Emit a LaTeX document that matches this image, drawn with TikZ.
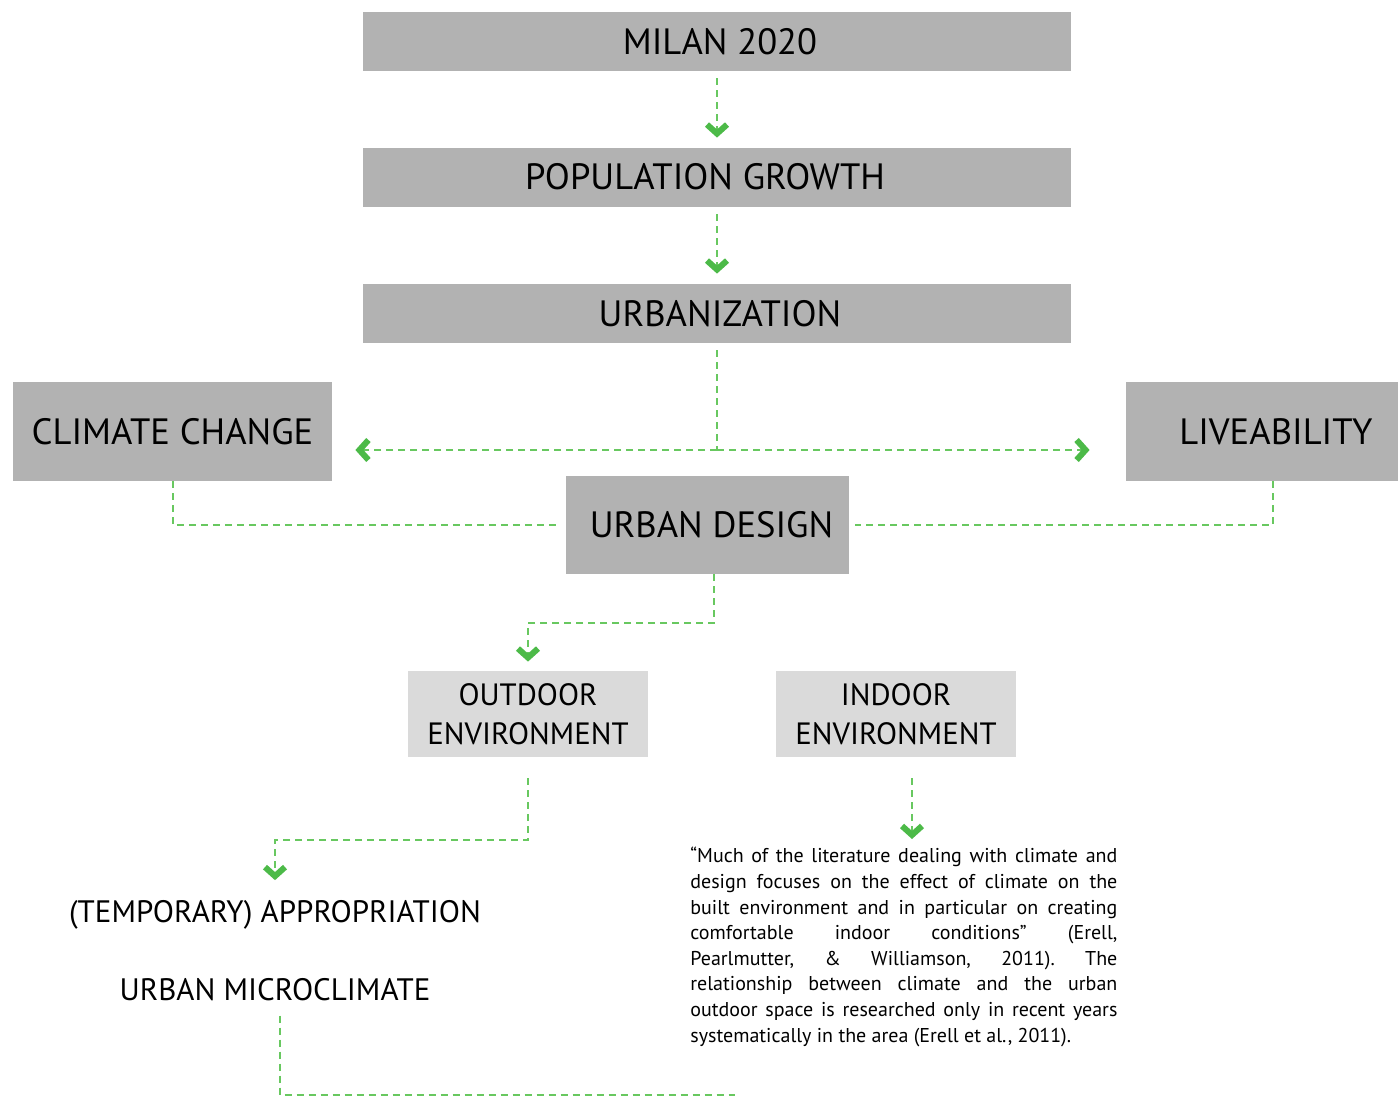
\documentclass[tikz,border=0pt]{standalone}
\usepackage{fontspec}
\setmainfont{PT Sans}
\usetikzlibrary{arrows.meta}

\definecolor{boxgrey}{RGB}{178,178,178}
\definecolor{envgrey}{RGB}{218,218,218}
\definecolor{linkgreen}{RGB}{104,200,96}
\definecolor{tipgreen}{RGB}{76,186,72}

\tikzset{
  bigbox/.style={fill=boxgrey, inner sep=0pt, font=\fontsize{18.3}{22}\selectfont},
  envbox/.style={fill=envgrey, inner sep=0pt, align=center, minimum width=120pt, minimum height=43pt, font=\fontsize{15.4}{19.5}\selectfont},
  plaintext/.style={inner sep=2pt, font=\fontsize{15.5}{18}\selectfont},
  link/.style={draw=linkgreen, line width=1pt, dash pattern=on 3.5pt off 2.5pt},
  arrowlink/.style={link, -{Straight Barb[length=4.5pt,width=10pt,line width=3pt,color=tipgreen]}}
}

\begin{document}
\begin{tikzpicture}[x=0.5pt,y=-0.5pt]
                \useasboundingbox (0,0) rectangle (1398,1097);

                \node[bigbox, minimum width=354pt, minimum height=29.5pt] (milan) at (717,41.5) {\hspace*{3pt}\raisebox{-1.5pt}{MILAN 2020}};
                \node[bigbox, minimum width=354pt, minimum height=29.5pt] (population) at (717,177.5) {\raisebox{1pt}{POPULATION GROWTH}\hspace*{12pt}};
                \node[bigbox, minimum width=354pt, minimum height=29.5pt] (urbanization) at (717,313.5) {\hspace*{3pt}URBANIZATION};

                \node[bigbox, minimum width=159.5pt, minimum height=49.5pt] (climate) at (172.5,431.5) {CLIMATE CHANGE};
                \node[bigbox, minimum width=136pt, minimum height=49.5pt] (liveability) at (1262,431.5) {\hspace*{14pt}LIVEABILITY};
                \node[bigbox, minimum width=141.5pt, minimum height=49pt] (design) at (707.5,525) {\hspace*{4pt}URBAN DESIGN};

                \node[envbox] (outdoor) at (528,714) {OUTDOOR\\ENVIRONMENT};
                \node[envbox] (indoor) at (896,714) {INDOOR\\ENVIRONMENT};

                \node[plaintext] (appropriation) at (275,915) {(TEMPORARY) APPROPRIATION};
                \node[plaintext] (microclimate) at (275,990) {URBAN MICROCLIMATE};

                \node[anchor=north west, inner sep=0pt, text width=213.5pt, align=justify,
                      font=\fontsize{10}{12.8}\selectfont\frenchspacing] (quote) at (690,847)
                  {“Much of the literature dealing with climate and\linebreak
                   design focuses on the effect of climate on the\linebreak
                   built environment and in particular on creating\linebreak
                   comfortable indoor conditions” (Erell,\linebreak
                   Pearlmutter, \& Williamson, 2011). The\linebreak
                   relationship between climate and the urban\linebreak
                   outdoor space is researched only in recent years\linebreak
                   systematically in the area (Erell et al., 2011).\par};

                \coordinate (split) at (717,450);
                \coordinate (bottomend) at (735,1095);

                \draw[arrowlink, shorten <=3.5pt, shorten >=5pt] (milan) -- (population);
                \draw[arrowlink, shorten <=3.5pt, shorten >=5pt] (population) -- (urbanization);

                \draw[link, shorten <=3.5pt] (urbanization) -- (split);
                \draw[arrowlink, shorten >=11.5pt] (split) -- (climate.east |- split);
                \draw[arrowlink, shorten >=18pt] (split) -- (liveability.west |- split);

                \draw[link, shorten >=3pt] (climate.south) |- (design.west);
                \draw[link, shorten >=3pt] ([xshift=5.5pt]liveability.south) |- (design.east);

                \draw[arrowlink, shorten >=4.5pt] ([xshift=3.25pt]design.south) -- ++(0,49) -| (outdoor.north);
                \draw[arrowlink, shorten <=10.5pt, shorten >=8pt] (outdoor.south) -- ++(0,83) -| (appropriation.north);
                \draw[arrowlink, shorten <=10.5pt, shorten >=4pt] ([xshift=8pt]indoor.south) -- ([xshift=8pt]indoor.south |- quote.north);

                \draw[link, shorten <=5pt] ([xshift=2.5pt]microclimate.south) |- (bottomend);
\end{tikzpicture}
\end{document}
